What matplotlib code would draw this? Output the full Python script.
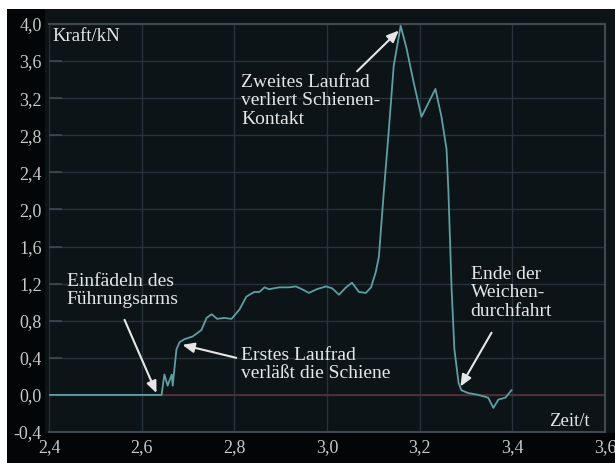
import matplotlib
matplotlib.use("Agg")
import matplotlib.pyplot as plt
from matplotlib.patches import Rectangle

# ---- data ----
zeit = [2.40, 2.62, 2.643, 2.649, 2.656, 2.665, 2.667, 2.675, 2.682, 2.692,
        2.710, 2.729, 2.740, 2.751, 2.763, 2.778, 2.794, 2.811, 2.826, 2.843,
        2.854, 2.865, 2.875, 2.897, 2.918, 2.933, 2.946, 2.961, 2.978, 2.998,
        3.011, 3.026, 3.041, 3.054, 3.069, 3.084, 3.095, 3.105, 3.112, 3.122,
        3.133, 3.144, 3.159, 3.172, 3.187, 3.204, 3.234, 3.247, 3.258, 3.262,
        3.269, 3.275, 3.284, 3.290, 3.305, 3.327, 3.348, 3.359, 3.370, 3.385,
        3.398]
kraft = [0.0, 0.0, 0.0, 0.22, 0.10, 0.22, 0.10, 0.49, 0.57, 0.60,
         0.63, 0.70, 0.83, 0.87, 0.82, 0.83, 0.82, 0.92, 1.06, 1.11,
         1.11, 1.16, 1.14, 1.16, 1.16, 1.17, 1.14, 1.10, 1.14, 1.17,
         1.15, 1.08, 1.16, 1.21, 1.11, 1.10, 1.16, 1.32, 1.49, 2.15,
         2.83, 3.55, 3.98, 3.73, 3.37, 3.00, 3.30, 3.00, 2.65, 2.20,
         1.13, 0.49, 0.13, 0.05, 0.02, 0.00, -0.03, -0.14, -0.05, -0.03,
         0.05]

x_ticks = [2.4, 2.6, 2.8, 3.0, 3.2, 3.4, 3.6]
x_labels = ["2,4", "2,6", "2,8", "3,0", "3,2", "3,4", "3,6"]
y_ticks = [-0.4, 0.0, 0.4, 0.8, 1.2, 1.6, 2.0, 2.4, 2.8, 3.2, 3.6, 4.0]
y_labels = ["-0,4", "0,0", "0,4", "0,8", "1,2", "1,6", "2,0", "2,4", "2,8",
            "3,2", "3,6", "4,0"]

notes = [
    ("Einfädeln des\nFührungsarms", (2.632, 0.02), (2.563, 0.81), (2.438, 1.32)),
    ("Erstes Laufrad\nverläßt die Schiene", (2.688, 0.54), (2.804, 0.40), (2.815, 0.52)),
    ("Zweites Laufrad\nverliert Schienen-\nKontakt", (3.155, 3.93), (3.065, 3.49), (2.815, 3.46)),
    ("Ende der\nWeichen-\ndurchfahrt", (3.288, 0.09), (3.355, 0.67), (3.31, 1.39)),
]

BG = "#0c1418"
GRID = "#27323a"
BORDER = "#3e4a50"
CURVE = "#5e9fa3"
TXT = "#e6e6e6"
TICK = "#c9c9c9"
SERIF = ["Liberation Serif", "DejaVu Serif"]

fig = plt.figure(figsize=(6.15, 4.63), dpi=100, facecolor="white")
W, H = 615, 463
fig.patches.append(Rectangle((7 / W, 0), 1 - 7 / W, 1 - 9 / H, transform=fig.transFigure,
                             facecolor=BG, edgecolor="none", zorder=-3))
fig.patches.append(Rectangle((7 / W, 0), 38 / W, 1 - 9 / H, transform=fig.transFigure,
                             facecolor="#030506", edgecolor="none", zorder=-2))
fig.patches.append(Rectangle((7 / W, 0), 1 - 7 / W, 30 / H, transform=fig.transFigure,
                             facecolor="#030506", edgecolor="none", zorder=-2))

ax = fig.add_axes([49 / W, 1 - 432 / H, (605 - 49) / W, (432 - 24) / H])
ax.set_facecolor(BG)
ax.set_xlim(2.4, 3.6)
ax.set_ylim(-0.4, 4.0)
ax.set_xticks(x_ticks)
ax.set_xticklabels(x_labels)
ax.set_yticks(y_ticks)
ax.set_yticklabels(y_labels)
ax.grid(True, color=GRID, linewidth=1.0)
ax.set_axisbelow(True)
for s in ax.spines.values():
    s.set_color(BORDER)
    s.set_linewidth(1.5)
ax.spines["left"].set_visible(False)
ax.tick_params(axis="y", direction="in", length=9, color=BORDER, width=1.2,
               labelcolor=TICK, labelsize=13, pad=5)
ax.tick_params(axis="x", direction="in", length=0, labelcolor=TICK, labelsize=13, pad=5)
for lab in ax.get_xticklabels() + ax.get_yticklabels():
    lab.set_family(SERIF)

ax.axhline(0.0, color="#5a2c36", linewidth=1.3, zorder=1)
ax.plot(zeit, kraft, color=CURVE, linewidth=1.3, zorder=3)

for text, head, tail, tpos in notes:
    ax.annotate("", xy=head, xytext=tail,
                arrowprops=dict(arrowstyle="-|>,head_length=0.7,head_width=0.3",
                                color=TXT, lw=1.5, shrinkA=0, shrinkB=0), zorder=4)
    ax.text(tpos[0], tpos[1], text, color=TXT, fontsize=14, family=SERIF,
            ha="left", va="top", linespacing=1.1, zorder=5)

ax.text(2.407, 3.96, "Kraft/kN", color=TXT, fontsize=13.5, family=SERIF, ha="left", va="top")
ax.text(3.568, -0.29, "Zeit/t", color=TXT, fontsize=13.5, family=SERIF, ha="right", va="center")

fig.savefig("out.png", dpi=100, facecolor=fig.get_facecolor())
